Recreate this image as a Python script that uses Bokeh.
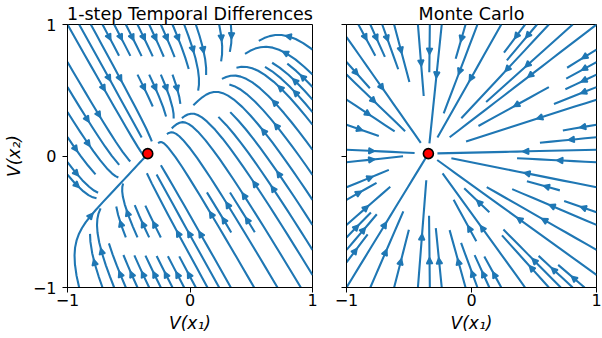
import math
import numpy as np
from bokeh.plotting import figure
from bokeh.layouts import row
from bokeh.models import ColumnDataSource, Arrow, NormalHead, FixedTicker, Range1d
from bokeh.embed import file_html
from bokeh.resources import INLINE

# ---------------- data ----------------
PANEL_TITLES = ["1-step Temporal Differences", "Monte Carlo"]
# linear expected-update fields: dV/dt = M (V - V*)
TD_MATRIX = [[-0.4375, 0.3375], [0.5625, -0.6625]]
MC_MATRIX = [[-1.0, 0.0], [0.0, -1.0]]
FIXED_POINT_X = [-0.345]
FIXED_POINT_Y = [0.018]
AXIS_LIMITS = [-1.0, 1.0]
TICK_VALUES = [-1, 0, 1]
TICK_LABELS = ["−1", "0", "1"]
X_LABEL = "V(x₁)"
Y_LABEL = "V(x₂)"
STREAM_DENSITY = 0.75

BLUE = "#1f77b4"
FONT = "DejaVu Sans"


# ------------- streamline tracing (matplotlib-style) -------------
class _OOB(Exception):
    pass


class _Term(Exception):
    pass


class _Inv(Exception):
    pass


def _start_points(nx, ny):
    xfirst, yfirst = 0, 1
    xlast, ylast = nx - 1, ny - 1
    x = y = 0
    direction = "right"
    for _ in range(nx * ny):
        yield x, y
        if direction == "right":
            x += 1
            if x >= xlast:
                xlast -= 1
                direction = "up"
        elif direction == "up":
            y += 1
            if y >= ylast:
                ylast -= 1
                direction = "left"
        elif direction == "left":
            x -= 1
            if x <= xfirst:
                xfirst += 1
                direction = "down"
        else:
            y -= 1
            if y <= yfirst:
                yfirst += 1
                direction = "right"


def trace_streams(M, fp, lo, hi, density=1.0, minlength=0.1, maxlength=4.0):
    ng = 100
    nm = int(30 * density)
    dgrid = (hi - lo) / (ng - 1)
    mask = np.zeros((nm, nm), dtype=int)
    g2m = (nm - 1) / (ng - 1)
    m2g = 1.0 / g2m
    st = {"cur": None, "traj": []}

    def within(xi, yi):
        return 0 <= xi <= ng - 1 and 0 <= yi <= ng - 1

    def g2mask(xi, yi):
        return int(round(xi * g2m)), int(round(yi * g2m))

    def mark(xm, ym):
        if st["cur"] != (xm, ym):
            if mask[ym, xm] == 0:
                st["traj"].append((ym, xm))
                mask[ym, xm] = 1
                st["cur"] = (xm, ym)
            else:
                raise _Inv

    def update(xi, yi):
        if not within(xi, yi):
            raise _Inv
        xm, ym = g2mask(xi, yi)
        mark(xm, ym)

    def fwd(xi, yi):
        if not within(xi, yi):
            raise _OOB
        ex = lo + xi * dgrid - fp[0]
        ey = lo + yi * dgrid - fp[1]
        ug = (M[0][0] * ex + M[0][1] * ey) / dgrid
        vg = (M[1][0] * ex + M[1][1] * ey) / dgrid
        sp = math.hypot(ug / (ng - 1), vg / (ng - 1))
        if sp == 0:
            raise _Term
        return ug / sp, vg / sp

    def bwd(xi, yi):
        a, b = fwd(xi, yi)
        return -a, -b

    maxerror = 0.003
    maxds = min(1.0 / nm, 0.1)

    def euler(traj, f):
        xi, yi = traj[-1]
        cx, cy = f(xi, yi)
        if cx == 0:
            dsx = math.inf
        elif cx < 0:
            dsx = xi / -cx
        else:
            dsx = (ng - 1 - xi) / cx
        if cy == 0:
            dsy = math.inf
        elif cy < 0:
            dsy = yi / -cy
        else:
            dsy = (ng - 1 - yi) / cy
        ds = min(dsx, dsy)
        traj.append((xi + cx * ds, yi + cy * ds))
        return ds, traj

    def rk12(x0, y0, f):
        ds = maxds
        stotal = 0.0
        xi, yi = x0, y0
        traj = []
        while True:
            try:
                if within(xi, yi):
                    traj.append((xi, yi))
                else:
                    raise _OOB
                k1x, k1y = f(xi, yi)
                k2x, k2y = f(xi + ds * k1x, yi + ds * k1y)
            except _OOB:
                if traj:
                    try:
                        d, traj = euler(traj, f)
                        stotal += d
                    except _Term:
                        pass
                break
            except _Term:
                break
            dx1, dy1 = ds * k1x, ds * k1y
            dx2, dy2 = ds * 0.5 * (k1x + k2x), ds * 0.5 * (k1y + k2y)
            err = math.hypot((dx2 - dx1) / (ng - 1), (dy2 - dy1) / (ng - 1))
            if err < maxerror:
                xi += dx2
                yi += dy2
                try:
                    update(xi, yi)
                except _Inv:
                    break
                if stotal + ds > maxlength:
                    break
                stotal += ds
            if err == 0:
                ds = maxds
            else:
                ds = min(maxds, 0.85 * ds * (maxerror / err) ** 0.5)
        return stotal, traj

    def integrate(x0, y0):
        st["traj"] = []
        try:
            mark(*g2mask(x0, y0))
        except _Inv:
            return None
        stotal = 0.0
        s, t = rk12(x0, y0, bwd)
        stotal += s
        xy = t[::-1]
        st["cur"] = g2mask(x0, y0)
        s, t = rk12(x0, y0, fwd)
        stotal += s
        xy += t[1:]
        if stotal > minlength:
            return xy
        for c in st["traj"]:
            mask[c] = 0
        return None

    xs, ys, arrows = [], [], {"x0": [], "y0": [], "x1": [], "y1": []}
    for xm, ym in _start_points(nm, nm):
        if mask[ym, xm] == 0:
            t = integrate(xm * m2g, ym * m2g)
            if t is None:
                continue
            arr = np.array(t)
            tx = lo + arr[:, 0] * dgrid
            ty = lo + arr[:, 1] * dgrid
            xs.append(tx.tolist())
            ys.append(ty.tolist())
            s = np.cumsum(np.hypot(np.diff(tx), np.diff(ty)))
            n = int(np.searchsorted(s, s[-1] / 2.0))
            n = min(n, len(tx) - 2)
            arrows["x0"].append(tx[n])
            arrows["y0"].append(ty[n])
            arrows["x1"].append(float(np.mean(tx[n:n + 2])))
            arrows["y1"].append(float(np.mean(ty[n:n + 2])))
    return xs, ys, arrows


# ---------------- figures ----------------
def make_panel(title, matrix, width, left, right, first):
    p = figure(width=width, height=338,
               x_range=Range1d(AXIS_LIMITS[0], AXIS_LIMITS[1]),
               y_range=Range1d(AXIS_LIMITS[0], AXIS_LIMITS[1]),
               min_border_left=left, min_border_right=right,
               min_border_top=23, min_border_bottom=51,
               output_backend="svg", toolbar_location=None)
    p.title.text = title
    p.title.align = "center"
    p.title.text_font = FONT
    p.title.text_font_size = "17.5px"
    p.title.text_font_style = "normal"
    p.title.text_color = "black"
    p.title.standoff = 2
    p.xgrid.grid_line_color = None
    p.ygrid.grid_line_color = None
    p.outline_line_color = "black"
    p.outline_line_alpha = 1.0
    p.outline_line_width = 1
    p.background_fill_color = "white"
    p.border_fill_color = "white"

    fp = [FIXED_POINT_X[0], FIXED_POINT_Y[0]]
    xs, ys, arr = trace_streams(matrix, fp, AXIS_LIMITS[0], AXIS_LIMITS[1],
                                density=STREAM_DENSITY)
    p.multi_line(xs, ys, line_color=BLUE, line_width=2.1, line_join="round")
    p.add_layout(Arrow(end=NormalHead(size=6, fill_color=BLUE, line_color=BLUE, line_width=1.5),
                       x_start="x0", y_start="y0", x_end="x1", y_end="y1",
                       line_color=BLUE, line_width=2.1,
                       source=ColumnDataSource(arr)))
    p.scatter(FIXED_POINT_X, FIXED_POINT_Y, size=10, fill_color="red",
              line_color="black", line_width=1.6)

    overrides = {v: l for v, l in zip(TICK_VALUES, TICK_LABELS)}
    for ax in (p.xaxis[0], p.yaxis[0]):
        ax.ticker = FixedTicker(ticks=TICK_VALUES)
        ax.major_label_overrides = dict(overrides)
        ax.axis_line_color = "black"
        ax.major_tick_line_color = "black"
        ax.major_tick_out = 5
        ax.major_tick_in = 0
        ax.minor_tick_out = 0
        ax.minor_tick_in = 0
        ax.major_label_text_font = FONT
        ax.major_label_text_font_size = "16px"
        ax.major_label_text_color = "black"
        ax.axis_label_text_font = FONT
        ax.axis_label_text_font_size = "17px"
        ax.axis_label_text_font_style = "italic"
        ax.axis_label_text_color = "black"
    p.xaxis.major_label_standoff = 1
    p.xaxis.axis_label_standoff = 4
    p.yaxis.major_label_standoff = 6
    p.yaxis.axis_label_standoff = 6
    p.xaxis.axis_label = X_LABEL
    if first:
        p.yaxis.axis_label = Y_LABEL
    else:
        p.yaxis.major_label_overrides = {v: "" for v in TICK_VALUES}
    return p


p1 = make_panel(PANEL_TITLES[0], TD_MATRIX, 322, 62, 10, True)
p2 = make_panel(PANEL_TITLES[1], MC_MATRIX, 280, 24, 6, False)
p = row(p1, p2)

open("out.html", "w").write(file_html(p, INLINE))
